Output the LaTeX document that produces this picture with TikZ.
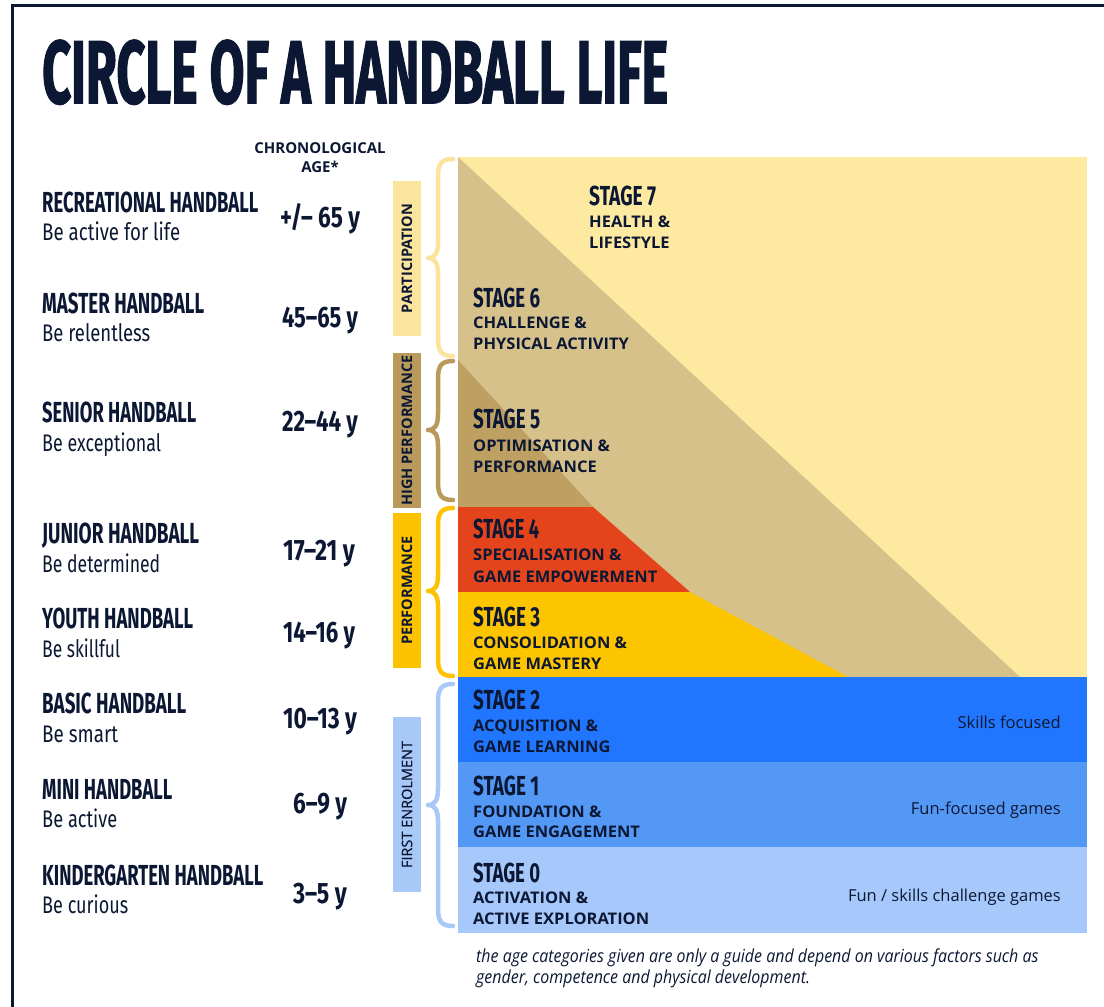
\documentclass[tikz,border=0pt]{standalone}
\usepackage{fontspec}
\usepackage{graphicx}
\setmainfont{Open Sans}
\newfontfamily\fira{Fira Sans}
\newfontfamily\titlefont{Fira Sans}[BoldFeatures={FakeBold=2}]
\definecolor{navy}{HTML}{0C1833}
\definecolor{partc}{HTML}{FBE49C}
\definecolor{hpc}{HTML}{B99A5B}
\definecolor{perfc}{HTML}{FDC300}
\definecolor{firstc}{HTML}{A8C8F8}
\definecolor{stsev}{HTML}{FDE99F}
\definecolor{stsix}{HTML}{D6C18B}
\definecolor{stfive}{HTML}{BFA063}
\definecolor{stfour}{HTML}{E4441B}
\definecolor{stthree}{HTML}{FDC500}
\definecolor{sttwo}{HTML}{2176FF}
\definecolor{stone}{HTML}{5498F6}
\definecolor{stzero}{HTML}{A7C8FA}
\newcommand\hw[2]{\resizebox{#1pt}{\height}{#2}}
\newcommand\upfont{\fira\bfseries\fontsize{29}{29}\selectfont}
\newcommand\befont{\fira\fontsize{24}{24}\selectfont}
\newcommand\agefont{\fira\bfseries\fontsize{29.5}{29.5}\selectfont}
\newcommand\stfont{\fira\bfseries\fontsize{27.5}{27.5}\selectfont}
\newcommand\subw[1]{\scalebox{1.03}[1]{#1}}
\newcommand\footw[1]{\scalebox{0.887}[1]{#1}}
\begin{document}
\begin{tikzpicture}[x=1pt,y=-1pt,
  lab/.style={inner sep=0pt, anchor=base west, text=navy},
  agelab/.style={inner sep=0pt, anchor=base, text=navy},
  sublab/.style={inner sep=0pt, anchor=base west, text=navy, font=\bfseries\fontsize{16}{16}\selectfont},
  sidelab/.style={inner sep=0pt, anchor=base east, text=navy, font=\fontsize{16.5}{16.5}\selectfont},
  footlab/.style={inner sep=0pt, anchor=base west, text=navy, font=\itshape\fontsize{18}{18}\selectfont},
  barbox/.style={inner sep=0pt, minimum width=28pt},
  vlab/.style={inner sep=0pt, rotate=90, text=navy, font=\bfseries\fontsize{14.5}{14.5}\selectfont},
  bracel/.style={line width=4.5pt, line cap=round, line join=round}]
\path[use as bounding box] (0,0) rectangle (1104,1007);
\fill[white] (0,0) rectangle (1104,1007);
% frame
\draw[navy, line width=2.5pt] (12.5,1007) -- (12.5,5.5) -- (1104,5.5);
% title
\node[lab] (title) at (42,103) {\resizebox{626pt}{63pt}{\titlefont\bfseries CIRCLE OF A HANDBALL LIFE}};
% chronological age
\node[agelab, font=\bfseries\fontsize{15}{15}\selectfont] (chrono) at (320,153) {CHRONOLOGICAL};
\node[agelab, font=\bfseries\fontsize{15}{15}\selectfont] (chronoage) at (320,172) {AGE*};
% left labels
\node[lab] (rec) at (42,212) {\hw{216}{\upfont RECREATIONAL HANDBALL}};
\node[lab] (recb) at (42,240) {\hw{138}{\befont Be active for life}};
\node[agelab] (reca) at (320,227) {\hw{80}{\agefont +/– 65 y}};
\node[lab] (mas) at (42,313) {\hw{162}{\upfont MASTER HANDBALL}};
\node[lab] (masb) at (42,341) {\hw{108}{\befont Be relentless}};
\node[agelab] (masa) at (320,327) {\hw{76}{\agefont 45–65 y}};
\node[lab] (sen) at (42,422) {\hw{154}{\upfont SENIOR HANDBALL}};
\node[lab] (senb) at (42,451) {\hw{119}{\befont Be exceptional}};
\node[agelab] (sena) at (320,431) {\hw{76}{\agefont 22–44 y}};
\node[lab] (jun) at (42,543) {\hw{157}{\upfont JUNIOR HANDBALL}};
\node[lab] (junb) at (42,572) {\hw{118}{\befont Be determined}};
\node[agelab] (juna) at (319,560) {\hw{72}{\agefont 17–21 y}};
\node[lab] (you) at (42,628) {\hw{151}{\upfont YOUTH HANDBALL}};
\node[lab] (youb) at (42,657) {\hw{78}{\befont Be skillful}};
\node[agelab] (youa) at (319,642) {\hw{72}{\agefont 14–16 y}};
\node[lab] (bas) at (42,713) {\hw{144}{\upfont BASIC HANDBALL}};
\node[lab] (basb) at (42,742) {\hw{76}{\befont Be smart}};
\node[agelab] (basa) at (320,728) {\hw{74}{\agefont 10–13 y}};
\node[lab] (mini) at (42,799) {\hw{130}{\upfont MINI HANDBALL}};
\node[lab] (minib) at (42,827) {\hw{75}{\befont Be active}};
\node[agelab] (minia) at (320,813) {\hw{54}{\agefont 6–9 y}};
\node[lab] (kin) at (42,885) {\hw{221}{\upfont KINDERGARTEN HANDBALL}};
\node[lab] (kinb) at (42,913) {\hw{86}{\befont Be curious}};
\node[agelab] (kina) at (320,903) {\hw{54}{\agefont 3–5 y}};
% bars
\node[barbox, fill=partc, minimum height=155pt] (pbar) at (407,258.5) {};
\node[vlab] (ptext) at (pbar.center) {PARTICIPATION};
\node[barbox, fill=hpc, minimum height=155pt] (hbar) at (407,430.5) {};
\node[vlab] (htext) at (hbar.center) {HIGH PERFORMANCE};
\node[barbox, fill=perfc, minimum height=155pt] (fbar) at (407,590.5) {};
\node[vlab] (ftext) at (fbar.center) {PERFORMANCE};
\node[barbox, fill=firstc, minimum height=175pt] (ebar) at (407,804.5) {};
\node[vlab, font=\fontsize{14.5}{14.5}\selectfont\addfontfeatures{FakeBold=0.6}] (etext) at (ebar.center) {FIRST ENROLMENT};
% braces
\newcommand\handbrace[4]{%
  \draw[bracel, #1] (453,#2) .. controls (441,#2) and (438,#2+5) .. (438,#2+18)
    -- (438,#3-16) .. controls (438,#3-5) and (435,#3) .. (428,#3)
    .. controls (435,#3) and (438,#3+5) .. (438,#3+16)
    -- (438,#4-18) .. controls (438,#4-5) and (441,#4) .. (453,#4);}
\handbrace{partc}{159}{258}{356}
\handbrace{hpc}{361}{430}{500}
\handbrace{perfc}{508}{591}{676}
\handbrace{firstc}{684}{805}{926}
% stage areas
\fill[stsev] (458,157) rectangle (1087,677);
\fill[stsix] (458,157) -- (1020,677) -- (458,677) -- cycle;
\fill[stfive] (458,360) -- (593,507) -- (458,507) -- cycle;
\fill[stfour] (458,507) -- (593,507) -- (690,592) -- (458,592) -- cycle;
\fill[stthree] (458,592) -- (690,592) -- (848,677) -- (458,677) -- cycle;
\fill[sttwo] (458,677) rectangle (1087,762);
\fill[stone] (458,762) rectangle (1087,847);
\fill[stzero] (458,847) rectangle (1087,933);
% stage texts
\node[lab] (s7) at (589,205) {\hw{67}{\stfont STAGE 7}};
\node[sublab] (s7a) at (589,227) {\subw{HEALTH \&}};
\node[sublab] (s7b) at (589,248) {\subw{LIFESTYLE}};
\node[lab] (s6) at (473,307) {\hw{67}{\stfont STAGE 6}};
\node[sublab] (s6a) at (473,328) {\subw{CHALLENGE \&}};
\node[sublab] (s6b) at (473,349) {\subw{PHYSICAL ACTIVITY}};
\node[lab] (s5) at (473,428) {\hw{67}{\stfont STAGE 5}};
\node[sublab] (s5a) at (473,451) {\subw{OPTIMISATION \&}};
\node[sublab] (s5b) at (473,472) {\subw{PERFORMANCE}};
\node[lab] (s4) at (473,538) {\hw{66}{\stfont STAGE 4}};
\node[sublab] (s4a) at (473,560) {\subw{SPECIALISATION \&}};
\node[sublab] (s4b) at (473,582) {\subw{GAME EMPOWERMENT}};
\node[lab] (s3) at (473,626) {\hw{67}{\stfont STAGE 3}};
\node[sublab] (s3a) at (473,648) {\subw{CONSOLIDATION \&}};
\node[sublab] (s3b) at (473,669) {\subw{GAME MASTERY}};
\node[lab] (s2) at (473,709) {\hw{67}{\stfont STAGE 2}};
\node[sublab] (s2a) at (473,731) {\subw{ACQUISITION \&}};
\node[sublab] (s2b) at (473,752) {\subw{GAME LEARNING}};
\node[lab] (s1) at (473,795) {\hw{66}{\stfont STAGE 1}};
\node[sublab] (s1a) at (473,817) {\subw{FOUNDATION \&}};
\node[sublab] (s1b) at (473,837) {\subw{GAME ENGAGEMENT}};
\node[lab] (s0) at (473,882) {\hw{67}{\stfont STAGE 0}};
\node[sublab] (s0a) at (473,903) {\subw{ACTIVATION \&}};
\node[sublab] (s0b) at (473,924) {\subw{ACTIVE EXPLORATION}};
% side labels
\node[sidelab] (r2) at (1061,728) {Skills focused};
\node[sidelab] (r1) at (1061,814) {Fun-focused games};
\node[sidelab] (r0) at (1061,901) {Fun / skills challenge games};
% footnote
\node[footlab] (foot1) at (476,962) {\footw{the age categories given are only a guide and depend on various factors such as}};
\node[footlab] (foot2) at (476,983) {\footw{gender, competence and physical development.}};
\end{tikzpicture}
\end{document}
